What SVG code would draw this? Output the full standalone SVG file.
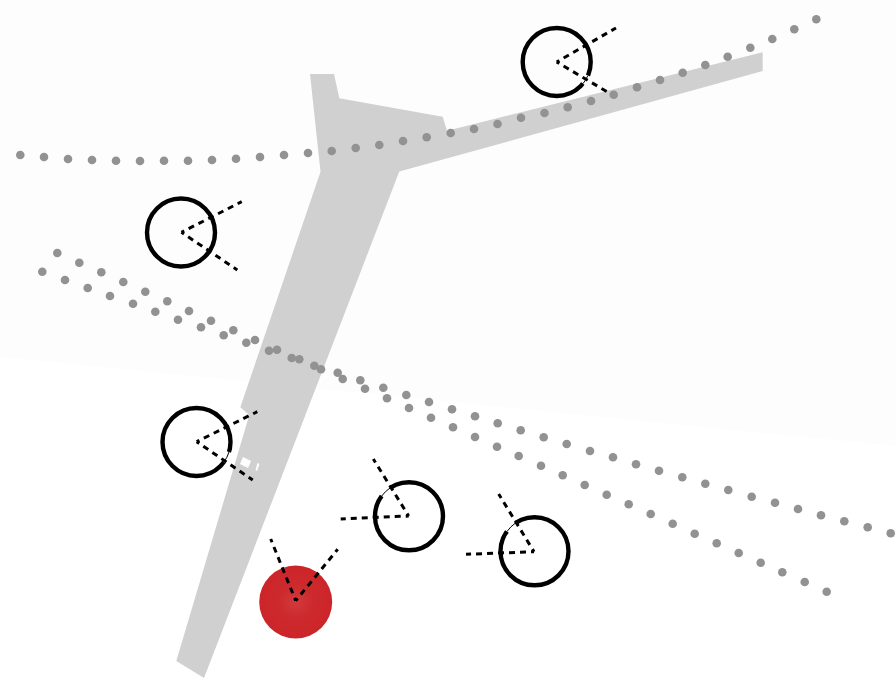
<svg xmlns="http://www.w3.org/2000/svg" width="896" height="689" viewBox="0 0 896 689">
<style>
.bg{fill:#fdfdfd}
.land{fill:#d0d0d0}
.gap{fill:#fff}
.ring{fill:none;stroke:#000;stroke-width:4.4}
.cut{fill:none;stroke:#fff;stroke-width:6}
.thin{fill:none;stroke:#000;stroke-width:1}
.red{fill:url(#redGlow)}
.dash{fill:none;stroke:#000;stroke-width:3;stroke-dasharray:6 5;stroke-dashoffset:3}
#dots circle{fill:#929292}
</style>
<defs>
<radialGradient id="redGlow"><stop offset="0" stop-color="#d23a3c"/><stop offset="0.45" stop-color="#cd2a2d"/><stop offset="1" stop-color="#cc2529"/></radialGradient>
</defs>
<rect width="896" height="689" fill="#fff"/>
<polygon class="bg" points="0,0 896,0 896,446 0,357"/>
<g id="land">
<polygon class="land" points="310,74 334,74 339.3,98.3 442.7,116.7 447,130.7 762.7,52.3 762.7,71 399.3,171.5 204,678 176.3,661 249.3,415 240.3,407.3 320.5,171.7"/>
<polygon class="gap" points="243,457 251,461 248,468 240,464"/>
<polygon class="gap" points="257.5,463 259.5,464 257,471 255.5,470"/>
</g>
<g id="node-1"><circle class="ring" cx="556.7" cy="62" r="34"/><path class="cut" d="M587.9 75.5A34 34 0 0 1 583 83.6"/><path class="thin" d="M587.9 75.5A34 34 0 0 1 583 83.6"/></g>
<g id="node-2"><circle class="ring" cx="181" cy="232.5" r="34"/></g>
<g id="node-3"><circle class="ring" cx="196.5" cy="442" r="34"/><path class="cut" d="M229 452A34 34 0 0 1 224 462"/><path class="thin" d="M229 452A34 34 0 0 1 224 462"/></g>
<g id="node-4"><circle class="ring" cx="409" cy="516.3" r="34"/><path class="cut" d="M381.7 496A34 34 0 0 1 390 488"/><path class="thin" d="M381.7 496A34 34 0 0 1 390 488"/></g>
<g id="node-5"><circle class="ring" cx="534.5" cy="551.3" r="34"/><path class="cut" d="M507 531.5A34 34 0 0 1 515.5 523"/><path class="thin" d="M507 531.5A34 34 0 0 1 515.5 523"/></g>
<g id="node-6"><circle class="red" cx="295.7" cy="602" r="36.5"/></g>
<g id="connectors">
<path class="dash" d="M556.7 62L616 28"/><path class="dash" d="M556.7 62L616 97"/>
<path class="dash" d="M181.5 232.3L241.7 201.7"/><path class="dash" d="M181.5 232.3L237.3 270"/>
<path class="dash" d="M196.7 441.7L257.3 411.7"/><path class="dash" d="M196.7 441.7L252.7 480"/>
<path class="dash" d="M408.7 516L373.3 459"/><path class="dash" d="M408.7 516L340.7 519"/>
<path class="dash" d="M534 551.7L498.7 494"/><path class="dash" d="M534 551.7L466 554.3"/>
<path class="dash" d="M295.7 600.7L270.7 539"/><path class="dash" d="M295.7 600.7L337.7 549.3"/>
</g>
<g id="dots">
<circle cx="20.3" cy="155" r="4.3"/><circle cx="44" cy="157" r="4.3"/><circle cx="68" cy="159" r="4.3"/><circle cx="92" cy="160" r="4.3"/><circle cx="116" cy="160.7" r="4.3"/><circle cx="140" cy="161" r="4.3"/><circle cx="164" cy="160.7" r="4.3"/><circle cx="188" cy="160.7" r="4.3"/><circle cx="212" cy="160" r="4.3"/><circle cx="236" cy="158.7" r="4.3"/><circle cx="260" cy="157" r="4.3"/><circle cx="284" cy="155" r="4.3"/><circle cx="308" cy="153" r="4.3"/><circle cx="331.7" cy="151" r="4.3"/><circle cx="355.7" cy="148" r="4.3"/><circle cx="379.3" cy="145" r="4.3"/><circle cx="403" cy="141" r="4.3"/><circle cx="426.7" cy="137.3" r="4.3"/><circle cx="450.7" cy="133" r="4.3"/><circle cx="474" cy="129" r="4.3"/><circle cx="497.5" cy="124" r="4.3"/><circle cx="521" cy="117.7" r="4.3"/><circle cx="544.5" cy="113" r="4.3"/><circle cx="567.7" cy="107.3" r="4.3"/><circle cx="591" cy="101" r="4.3"/><circle cx="613.7" cy="94.7" r="4.3"/><circle cx="637" cy="87.3" r="4.3"/><circle cx="660" cy="80" r="4.3"/><circle cx="682.7" cy="72.7" r="4.3"/><circle cx="705.3" cy="65" r="4.3"/><circle cx="727.7" cy="56.7" r="4.3"/><circle cx="750.3" cy="47.7" r="4.3"/><circle cx="772.3" cy="39" r="4.3"/><circle cx="794.3" cy="29.3" r="4.3"/><circle cx="816.3" cy="19.3" r="4.3"/>
<circle cx="57.3" cy="253" r="4.3"/><circle cx="79.3" cy="262.7" r="4.3"/><circle cx="101.3" cy="272.3" r="4.3"/><circle cx="123.3" cy="282" r="4.3"/><circle cx="145.3" cy="291.7" r="4.3"/><circle cx="167.3" cy="301.3" r="4.3"/><circle cx="189" cy="311" r="4.3"/><circle cx="211" cy="320.7" r="4.3"/><circle cx="233.3" cy="330.3" r="4.3"/><circle cx="255" cy="340" r="4.3"/><circle cx="277" cy="349.7" r="4.3"/><circle cx="299.3" cy="359.3" r="4.3"/><circle cx="321" cy="369.3" r="4.3"/><circle cx="342.7" cy="379" r="4.3"/><circle cx="365" cy="388.7" r="4.3"/><circle cx="387" cy="398.3" r="4.3"/><circle cx="409" cy="408" r="4.3"/><circle cx="431" cy="417.7" r="4.3"/><circle cx="453" cy="427.3" r="4.3"/><circle cx="475" cy="437" r="4.3"/><circle cx="497" cy="446.7" r="4.3"/><circle cx="518.7" cy="456" r="4.3"/><circle cx="541" cy="465.7" r="4.3"/><circle cx="562.7" cy="475.3" r="4.3"/><circle cx="584.7" cy="485" r="4.3"/><circle cx="606.7" cy="494.7" r="4.3"/><circle cx="628.7" cy="504.3" r="4.3"/><circle cx="650.7" cy="514" r="4.3"/><circle cx="672.7" cy="523.7" r="4.3"/><circle cx="694.7" cy="533.7" r="4.3"/><circle cx="716.7" cy="543.3" r="4.3"/><circle cx="738.7" cy="553" r="4.3"/><circle cx="760.7" cy="562.7" r="4.3"/><circle cx="782.3" cy="572.3" r="4.3"/><circle cx="804.7" cy="582" r="4.3"/><circle cx="826.7" cy="591.7" r="4.3"/>
<circle cx="42.3" cy="271.7" r="4.3"/><circle cx="65" cy="280" r="4.3"/><circle cx="87.7" cy="288" r="4.3"/><circle cx="110" cy="296" r="4.3"/><circle cx="133" cy="303.7" r="4.3"/><circle cx="155.3" cy="311.7" r="4.3"/><circle cx="178" cy="319.7" r="4.3"/><circle cx="201" cy="327.3" r="4.3"/><circle cx="223.7" cy="335.3" r="4.3"/><circle cx="246.3" cy="342.7" r="4.3"/><circle cx="269" cy="350.7" r="4.3"/><circle cx="291.7" cy="358" r="4.3"/><circle cx="314.3" cy="365.7" r="4.3"/><circle cx="337.7" cy="372.7" r="4.3"/><circle cx="360.3" cy="380.3" r="4.3"/><circle cx="383.3" cy="387.7" r="4.3"/><circle cx="406.3" cy="395" r="4.3"/><circle cx="429" cy="402" r="4.3"/><circle cx="452" cy="409.3" r="4.3"/><circle cx="475" cy="416.3" r="4.3"/><circle cx="497.7" cy="423.3" r="4.3"/><circle cx="520.7" cy="430.3" r="4.3"/><circle cx="543.7" cy="437.3" r="4.3"/><circle cx="566.7" cy="444" r="4.3"/><circle cx="590" cy="451" r="4.3"/><circle cx="613" cy="457.3" r="4.3"/><circle cx="636" cy="464.3" r="4.3"/><circle cx="659" cy="470.7" r="4.3"/><circle cx="682.3" cy="477.3" r="4.3"/><circle cx="705.3" cy="483.7" r="4.3"/><circle cx="728.3" cy="490" r="4.3"/><circle cx="751.7" cy="496.7" r="4.3"/><circle cx="775" cy="502.7" r="4.3"/><circle cx="798" cy="509" r="4.3"/><circle cx="821" cy="515.3" r="4.3"/><circle cx="844.3" cy="521.3" r="4.3"/><circle cx="867.7" cy="527.3" r="4.3"/><circle cx="890.7" cy="533.3" r="4.3"/>
</g>
</svg>
